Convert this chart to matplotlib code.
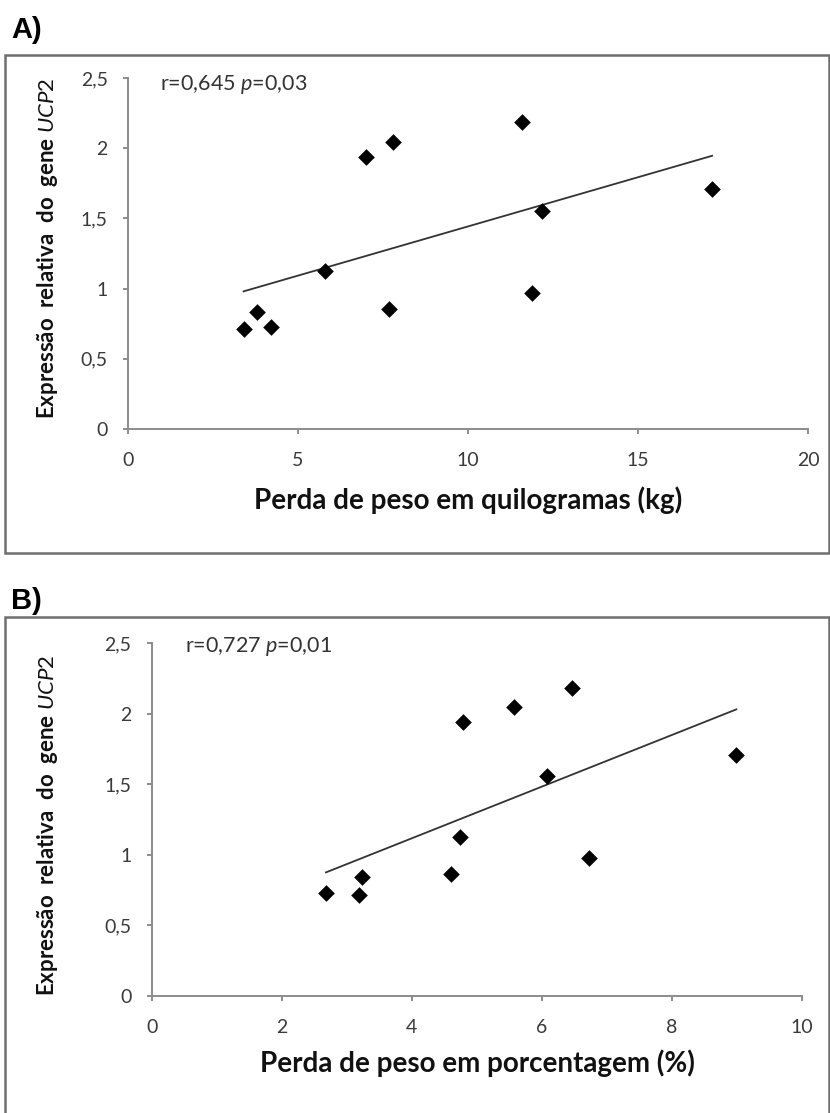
import matplotlib
matplotlib.use("Agg")
import matplotlib.pyplot as plt
import numpy as np
from matplotlib.patches import Rectangle

plt.rcParams['font.family'] = ['Lato', 'DejaVu Sans']
plt.rcParams['mathtext.fontset'] = 'custom'
plt.rcParams['mathtext.rm'] = 'Lato'
plt.rcParams['mathtext.it'] = 'Lato:italic'
plt.rcParams['mathtext.bf'] = 'Lato:bold'

# Data
kg_loss = [3.40, 3.80, 4.21, 5.79, 7.00, 7.80, 7.69, 11.59, 11.89, 12.18, 17.18]
expr_a = [0.71, 0.835, 0.724, 1.125, 1.94, 2.046, 0.857, 2.184, 0.966, 1.553, 1.707]
pct_loss = [2.68, 3.19, 3.24, 4.60, 4.74, 4.78, 5.57, 6.08, 6.47, 6.73, 8.99]
expr_b = [0.728, 0.718, 0.841, 0.862, 1.127, 1.94, 2.05, 1.56, 2.18, 0.976, 1.708]

y_ticks = [0, 0.5, 1, 1.5, 2, 2.5]
y_ticklabels = ['0', '0,5', '1', '1,5', '2', '2,5']
x_ticks_a = [0, 5, 10, 15, 20]
x_ticks_b = [0, 2, 4, 6, 8, 10]
stats_a = "r=0,645 $\\it{p}$=0,03"
stats_b = "r=0,727 $\\it{p}$=0,01"
xlabel_a = "Perda de peso em quilogramas (kg)"
xlabel_b = "Perda de peso em porcentagem (%)"
ylabel = "Expressão  relativa  do  gene $\\it{UCP2}$"

W, H = 830, 1113
fig = plt.figure(figsize=(W / 100, H / 100), dpi=100)

axis_col = '#8c8c8c'
tick_col = '#3a3a3a'

def fx(px):
    return px / W

def fy(py):
    return 1 - py / H

# Panel frames
fig.patches.append(Rectangle((fx(5), fy(553)), fx(824), 553 / H - 55 / H,
                             transform=fig.transFigure, fill=False,
                             edgecolor='#6e6e6e', linewidth=1.8))
fig.patches.append(Rectangle((fx(5), fy(1125)), fx(824), 1125 / H - 617 / H,
                             transform=fig.transFigure, fill=False,
                             edgecolor='#6e6e6e', linewidth=1.8))

fig.text(fx(11), fy(30), "A)", fontsize=21, fontweight='bold',
         family=['Liberation Sans', 'DejaVu Sans'], va='center', ha='left')
fig.text(fx(11), fy(601), "B)", fontsize=21, fontweight='bold',
         family=['Liberation Sans', 'DejaVu Sans'], va='center', ha='left')


def make_panel(rect, x, y, xticks, xlabel, stats, stat_xy, ylab_xy, xlab_xy):
    ax = fig.add_axes(rect)
    ax.scatter(x, y, marker='D', s=72, color='black', zorder=3, linewidths=0)
    coef = np.polyfit(x, y, 1)
    xs = np.array([min(x), max(x)])
    ax.plot(xs, np.polyval(coef, xs), color='#333333', linewidth=1.3, zorder=2)
    ax.set_xlim(xticks[0], xticks[-1])
    ax.set_ylim(0, 2.5)
    ax.set_xticks(xticks)
    ax.set_xticklabels([str(t) for t in xticks])
    ax.set_yticks(y_ticks)
    ax.set_yticklabels(y_ticklabels)
    for s in ['top', 'right']:
        ax.spines[s].set_visible(False)
    for s in ['left', 'bottom']:
        ax.spines[s].set_color(axis_col)
        ax.spines[s].set_linewidth(1.4)
    ax.tick_params(axis='both', colors=axis_col, labelcolor=tick_col,
                   labelsize=14, length=3.5, width=1.4, direction='out')
    ax.tick_params(axis='x', pad=13)
    ax.tick_params(axis='y', pad=11)
    fig.text(stat_xy[0], stat_xy[1], stats, fontsize=15.5, color='#333333',
             va='center', ha='left')
    fig.text(ylab_xy[0], ylab_xy[1], ylabel, rotation=90, fontsize=16,
             fontweight='bold', va='center', ha='center', color='#111111')
    fig.text(xlab_xy[0], xlab_xy[1], xlabel, fontsize=20, fontweight='bold',
             va='center', ha='center', color='#111111')
    return ax

rect_a = [fx(128), fy(429), fx(808 - 128), (429 - 78) / H]
rect_b = [fx(151.7), fy(996), fx(802 - 151.7), (996 - 643.3) / H]

make_panel(rect_a, kg_loss, expr_a, x_ticks_a, xlabel_a, stats_a,
           (fx(160), fy(84)), (fx(48), fy(248)), (fx(468), fy(500)))
make_panel(rect_b, pct_loss, expr_b, x_ticks_b, xlabel_b, stats_b,
           (fx(185), fy(647)), (fx(48), fy(825)), (fx(477), fy(1063)))

fig.savefig("out.png", dpi=100, facecolor='white')
